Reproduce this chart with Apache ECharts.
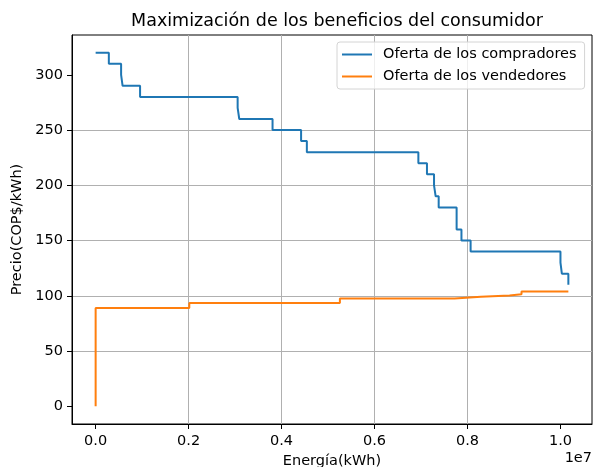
<!DOCTYPE html>
<html>
<head>
<meta charset="utf-8">
<script src="https://cdn.jsdelivr.net/npm/echarts@6/dist/echarts.min.js"></script>
<style>html,body{margin:0;padding:0;background:#fff}#c{width:593px;height:467px}</style>
</head>
<body>
<div id="c"></div>
<script>
// Buyers' offer (step breakpoints, kWh) and price (COP$/kWh)
var buyerEnergy = [0, 284000, 548000, 580000, 956000, 3055000, 3090000, 3806000, 4420000, 4544000, 6943000, 7128000, 7280000, 7315000, 7380000, 7766000, 7870000, 8067000, 10000000, 10030000, 10170000];
var buyerPrice  = [320, 310, 300, 290, 280, 270, 260, 250, 240, 230, 220, 210, 200, 190, 180, 160, 150, 140, 130, 120, 110];
// Sellers' offer
var sellerEnergy = [0, 0, 2015000, 5255000, 7723000, 8288000, 8905000, 9162000, 10170000];
var sellerPrice  = [0, 88.9, 93.6, 97.5, 99.1, 100.3, 101.3, 103.9, 103.9];
// Tick values
var xTicks = [0, 2000000, 4000000, 6000000, 8000000, 10000000];
var yTicks = [0, 50, 100, 150, 200, 250, 300];

function zip(a, b) { return a.map(function (v, i) { return [v, b[i]]; }); }

var xMaxData = Math.max.apply(null, buyerEnergy.concat(sellerEnergy));
var xMinData = 0;
var xPad = (xMaxData - xMinData) * 0.05;
var yPad = (320 - 0) * 0.05;

var font = 'DejaVu Sans';
var fs = 14.5;
var chart = echarts.init(document.getElementById('c'), null, {renderer: 'canvas'});
chart.setOption({
  animation: false,
  backgroundColor: '#ffffff',
  title: {
    text: 'Maximización de los beneficios del consumidor',
    left: 332, top: 7, textAlign: 'center',
    textStyle: {fontFamily: font, fontSize: 17.5, fontWeight: 'normal', color: '#000'}
  },
  grid: {left: 72, top: 35, width: 520, height: 389, outerBoundsMode: 'none', containLabel: false,
    show: true, borderColor: '#000', borderWidth: 1, backgroundColor: 'transparent'},
  legend: {
    orient: 'vertical', left: 337, top: 42,
    padding: [4, 8, 4, 5], itemGap: 5, itemWidth: 30, itemHeight: 2,
    backgroundColor: 'rgba(255,255,255,0.8)', borderColor: '#d4d4d4', borderWidth: 1, borderRadius: 3,
    textStyle: {fontFamily: font, fontSize: fs, color: '#000', lineHeight: 17, padding: [0, 0, 0, 6]},
    data: [{name: 'Oferta de los compradores', icon: 'rect'}, {name: 'Oferta de los vendedores', icon: 'rect'}]
  },
  xAxis: {
    type: 'value', min: xMinData - xPad, max: xMaxData + xPad,
    splitNumber: 5,
    name: 'Energía(kWh)', nameLocation: 'middle', nameGap: 30,
    nameTextStyle: {fontFamily: font, fontSize: fs, color: '#000'},
    axisLine: {show: true, onZero: false, lineStyle: {color: '#000', width: 1}},
    axisTick: {show: true, length: 5, lineStyle: {color: '#000'}, customValues: xTicks},
    axisLabel: {fontFamily: font, fontSize: fs, color: '#000', margin: 10, customValues: xTicks,
      formatter: function (v) { return (v / 1e7).toFixed(1); }},
    splitLine: {show: true, showMinLine: false, showMaxLine: false, lineStyle: {color: '#b0b0b0', width: 1}}
  },
  yAxis: {
    type: 'value', min: 0 - yPad, max: 320 + yPad,
    splitNumber: 7,
    name: 'Precio(COP$/kWh)', nameLocation: 'middle', nameGap: 42, nameRotate: 90,
    nameTextStyle: {fontFamily: font, fontSize: fs, color: '#000'},
    axisLine: {show: true, onZero: false, lineStyle: {color: '#000', width: 1}},
    axisTick: {show: true, length: 5, lineStyle: {color: '#000'}, customValues: yTicks},
    axisLabel: {fontFamily: font, fontSize: fs, color: '#000', margin: 9, customValues: yTicks},
    splitLine: {show: true, showMinLine: false, showMaxLine: false, lineStyle: {color: '#b0b0b0', width: 1}}
  },
  graphic: [{
    type: 'text', right: 1, top: 451,
    style: {text: '1e7', fontFamily: font, fontSize: fs, fill: '#000'}
  }],
  series: [{
    name: 'Oferta de los compradores', type: 'line', step: 'end', symbol: 'none',
    data: zip(buyerEnergy, buyerPrice),
    itemStyle: {color: '#1f77b4'}, lineStyle: {color: '#1f77b4', width: 2}
  }, {
    name: 'Oferta de los vendedores', type: 'line', step: 'end', symbol: 'none',
    data: zip(sellerEnergy, sellerPrice),
    itemStyle: {color: '#ff7f0e'}, lineStyle: {color: '#ff7f0e', width: 2}
  }]
});
</script>
</body>
</html>
